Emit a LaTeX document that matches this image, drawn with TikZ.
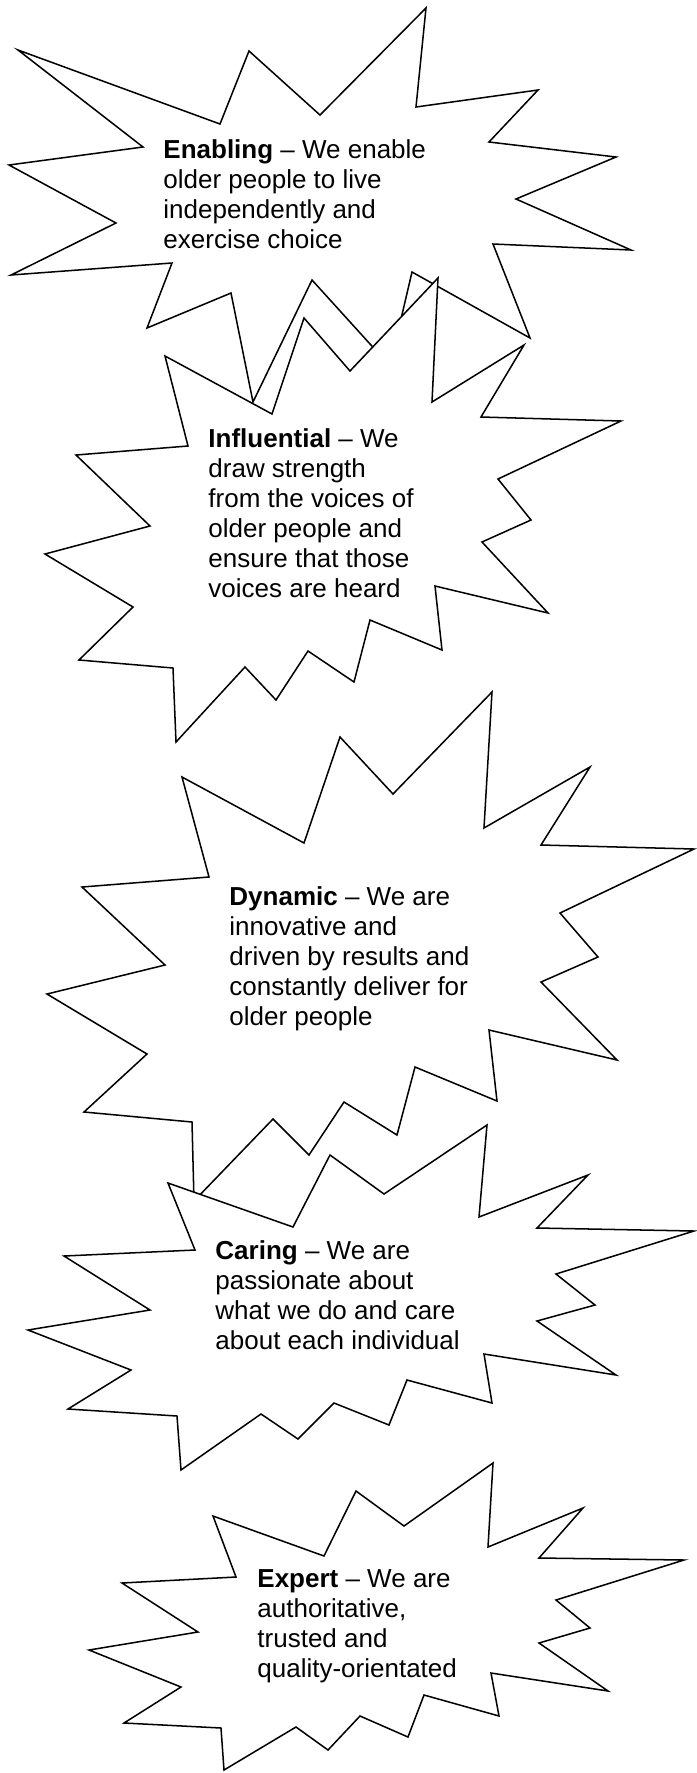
\documentclass[tikz,border=0pt]{standalone}
\usepackage{fontspec}
\setmainfont{Liberation Sans}
\usetikzlibrary{positioning}
\definecolor{tinta}{HTML}{000000}
\tikzset{
  burst/.style={draw=tinta, fill=white, line width=0.7pt, line join=miter},
  valor/.style={anchor=north west, inner sep=0pt, align=left, text=tinta,
                font=\fontsize{12}{13.85}\selectfont}
}
\begin{document}
\begin{tikzpicture}[x=0.4615pt, y=-0.4615pt]
  \useasboundingbox (0,0) rectangle (696,1773);
  % Enabling
  \draw [burst] (18,50) -- (220,124) -- (249,51) -- (320,115) -- (426,8) -- (416,107) -- (538,90) -- (489,142)
    -- (616,157) -- (516,199) -- (631,250) -- (493,244) -- (530,338) -- (412,272) -- (390,366) -- (312,280)
    -- (253,402) -- (231,293) -- (147,328) -- (172,263) -- (11,275) -- (116,223) -- (9,165) -- (143,147) -- cycle;
  \node (enabling) [valor] at (163,139) {\textbf{Enabling} – We enable\\ older people to live\\ independently and\\ exercise choice};
  % Influential
  \draw [burst] (165,356) -- (272,414) -- (304,318) -- (350,371) -- (438,278) -- (432,402) -- (524,345) -- (481,417)
    -- (621,421) -- (498,479) -- (531,520) -- (482,542) -- (548,613) -- (435,586) -- (442,650) -- (370,620)
    -- (354,682) -- (308,651) -- (276,700) -- (245,667) -- (176,742) -- (173,668) -- (79,660) -- (133,607)
    -- (45,554) -- (150,526) -- (76,455) -- (188,446) -- cycle;
  \node (influential) [valor] at (208,428) {\textbf{Influential} – We\\ draw strength\\ from the voices of\\ older people and\\ ensure that those\\ voices are heard};
  % Dynamic
  \draw [burst] (182,777) -- (304,843) -- (340,737) -- (393,794) -- (492,692) -- (484,828) -- (590,767) -- (541,845)
    -- (694,849) -- (560,913) -- (598,957) -- (541,982) -- (617,1060) -- (489,1030) -- (497,1101) -- (415,1067)
    -- (397,1135) -- (344,1102) -- (309,1155) -- (273,1119) -- (194,1201) -- (192,1122) -- (84,1112) -- (147,1054)
    -- (47,994) -- (165,965) -- (82,887) -- (209,877) -- cycle;
  \node (dynamic) [valor] at (229,886) {\textbf{Dynamic} – We are\\ innovative and\\ driven by results and\\ constantly deliver for\\ older people};
  % Caring
  \draw [burst] (168,1183) -- (293,1227) -- (330,1155) -- (384,1194) -- (487,1125) -- (479,1217) -- (588,1175) -- (537,1228)
    -- (694,1231) -- (556,1274) -- (595,1305) -- (537,1321) -- (616,1375) -- (484,1354) -- (492,1403) -- (407,1380)
    -- (389,1425) -- (334,1403) -- (298,1439) -- (261,1414) -- (181,1470) -- (177,1416) -- (68,1409) -- (131,1370)
    -- (28,1330) -- (150,1310) -- (64,1256) -- (195,1250) -- cycle;
  \node (caring) [valor] at (215,1240) {\textbf{Caring} – We are\\ passionate about\\ what we do and care\\ about each individual};
  % Expert
  \draw [burst] (213,1516) -- (324,1556) -- (356,1491) -- (404,1526) -- (493,1463) -- (488,1547) -- (583,1508) -- (539,1558)
    -- (684,1560) -- (556,1600) -- (590,1628) -- (539,1643) -- (608,1691) -- (491,1673) -- (499,1716) -- (424,1695)
    -- (408,1737) -- (360,1716) -- (328,1750) -- (296,1727) -- (224,1770) -- (221,1728) -- (124,1723) -- (181,1687)
    -- (89,1650) -- (198,1632) -- (122,1583) -- (236,1577) -- cycle;
  \node (expert) [valor] at (257,1569) {\textbf{Expert} – We are\\ authoritative,\\ trusted and\\ quality-orientated};
\end{tikzpicture}
\end{document}
